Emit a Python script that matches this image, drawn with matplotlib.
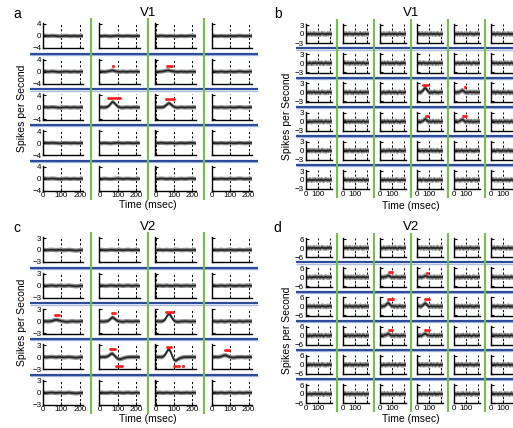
import matplotlib

matplotlib.use("Agg")
import matplotlib.pyplot as plt
import numpy as np

plt.rcParams["font.family"] = ["Liberation Sans", "DejaVu Sans"]

W_PX, H_PX, DPI = 513, 428, 100

# time axis of every trace (ms)
T_MS = [0, 10, 20, 30, 40, 50, 60, 70, 80, 90, 100, 110,
        120, 130, 140, 150, 160, 170, 180, 190, 200, 210, 220]

# flat (non-responsive) traces, read by eye
WIG_A = [
    [0.15, 0.1, 0.05, 0.0, 0.05, 0.1, 0.05, 0.0, -0.05, -0.1, -0.05, 0.0, 0.05, 0.05, 0.0, -0.05, 0.0, 0.05, 0.0, -0.05, 0.0, 0.05, 0.0],
    [0.0, -0.05, 0.0, 0.05, 0.0, -0.05, -0.1, -0.05, 0.0, 0.05, 0.1, 0.05, 0.0, -0.05, 0.0, 0.05, 0.05, 0.0, -0.05, -0.05, 0.0, 0.05, 0.0],
    [-0.05, 0.0, 0.05, 0.1, 0.05, 0.0, -0.05, 0.0, 0.05, 0.0, -0.05, -0.1, -0.05, 0.0, 0.05, 0.0, -0.05, 0.0, 0.05, 0.1, 0.05, 0.0, -0.05],
    [0.1, 0.05, 0.0, -0.05, 0.0, 0.05, 0.0, -0.05, -0.05, 0.0, 0.05, 0.0, -0.05, 0.0, 0.05, 0.1, 0.05, 0.0, -0.05, 0.0, 0.0, 0.05, 0.05],
]
WIG_C = [
    [0.05, 0.0, -0.05, 0.0, 0.05, 0.05, 0.0, -0.05, 0.0, 0.05, 0.0, -0.05, -0.05, 0.0, 0.05, 0.0, -0.05, -0.1, -0.15, -0.1, -0.05, 0.0, 0.0],
    [0.0, 0.05, 0.0, -0.05, -0.05, 0.0, 0.05, 0.05, 0.0, -0.05, 0.0, 0.05, 0.0, -0.05, 0.0, 0.05, 0.05, 0.0, -0.05, 0.0, 0.05, 0.0, -0.05],
    [-0.05, 0.0, 0.05, 0.0, -0.05, 0.0, 0.05, 0.0, -0.05, -0.05, 0.0, 0.05, 0.05, 0.0, -0.05, 0.0, 0.0, 0.05, 0.0, -0.05, 0.0, 0.05, 0.0],
    [0.05, 0.05, 0.0, -0.05, 0.0, 0.05, 0.0, -0.05, 0.0, 0.05, 0.05, 0.0, -0.05, -0.05, 0.0, 0.05, 0.0, -0.05, 0.0, 0.05, 0.0, 0.0, 0.05],
]
WIG_B = [
    [0.1, -0.2, 0.15, -0.1, 0.2, -0.15, 0.05, 0.2, -0.2, 0.1, -0.1, 0.15, -0.2, 0.1, 0.2, -0.1, 0.05, -0.2, 0.15, -0.05, 0.2, -0.1, 0.0],
    [-0.15, 0.1, -0.05, 0.2, -0.2, 0.1, 0.15, -0.1, 0.05, -0.2, 0.2, -0.05, 0.1, -0.15, 0.05, 0.2, -0.2, 0.1, -0.1, 0.15, -0.05, 0.1, -0.1],
    [0.2, 0.0, -0.15, 0.1, 0.05, -0.2, 0.1, -0.05, 0.2, -0.1, 0.0, 0.15, -0.15, 0.2, -0.05, -0.2, 0.1, 0.15, -0.1, 0.05, -0.15, 0.2, 0.0],
    [-0.05, 0.15, 0.2, -0.1, 0.05, 0.1, -0.2, 0.15, -0.05, 0.1, -0.15, -0.05, 0.2, -0.1, 0.1, 0.0, -0.15, 0.2, 0.05, -0.2, 0.1, -0.05, 0.1],
]
WIG_D = [
    [0.2, -0.4, 0.3, -0.2, 0.4, -0.3, 0.1, 0.4, -0.4, 0.2, -0.2, 0.3, -0.4, 0.2, 0.4, -0.2, 0.1, -0.4, 0.3, -0.1, 0.4, -0.2, 0.0],
    [-0.3, 0.2, -0.1, 0.4, -0.4, 0.2, 0.3, -0.2, 0.1, -0.4, 0.4, -0.1, 0.2, -0.3, 0.1, 0.4, -0.4, 0.2, -0.2, 0.3, -0.1, 0.2, -0.2],
    [0.4, 0.0, -0.3, 0.2, 0.1, -0.4, 0.2, -0.1, 0.4, -0.2, 0.0, 0.3, -0.3, 0.4, -0.1, -0.4, 0.2, 0.3, -0.2, 0.1, -0.3, 0.4, 0.0],
    [-0.1, 0.3, 0.4, -0.2, 0.1, 0.2, -0.4, 0.3, -0.1, 0.2, -0.3, -0.1, 0.4, -0.2, 0.2, 0.0, -0.3, 0.4, 0.1, -0.4, 0.2, -0.1, 0.2],
]

# responsive traces, keyed by (row, col)
A_RESP = {
    (1, 1): [0.0, 0.05, 0.0, -0.05, 0.05, 0.15, 0.3, 0.4, 0.3, 0.1, 0.0, -0.05, 0.0, 0.05, 0.0, -0.05, 0.0, 0.05, 0.0, 0.0, 0.05, 0.0, 0.0],
    (1, 2): [0.0, -0.05, 0.0, 0.05, 0.1, 0.25, 0.4, 0.45, 0.3, 0.15, 0.05, 0.0, -0.05, 0.0, 0.05, 0.0, 0.0, -0.05, 0.0, 0.05, 0.0, 0.0, 0.0],
    (2, 1): [0.0, 0.05, 0.0, 0.0, 0.1, 0.4, 1.1, 1.8, 1.6, 0.9, 0.3, 0.05, -0.1, -0.05, 0.0, 0.05, 0.0, -0.05, 0.0, 0.05, 0.0, 0.0, 0.0],
    (2, 2): [0.0, 0.0, 0.05, 0.0, 0.1, 0.35, 0.9, 1.4, 1.2, 0.6, 0.2, 0.0, -0.1, 0.0, 0.05, 0.0, -0.05, 0.0, 0.05, 0.0, 0.0, 0.05, 0.0],
}
C_RESP = {
    (2, 0): [0.0, 0.05, 0.0, 0.0, 0.05, 0.15, 0.3, 0.4, 0.35, 0.2, 0.1, 0.0, -0.05, -0.1, -0.05, 0.0, 0.05, 0.0, -0.05, 0.0, 0.0, 0.05, 0.0],
    (2, 1): [0.0, 0.0, -0.05, 0.0, 0.05, 0.2, 0.6, 1.0, 0.8, 0.4, 0.1, 0.0, -0.05, -0.1, 0.0, 0.05, 0.0, 0.0, -0.05, 0.0, 0.05, 0.0, 0.0],
    (2, 2): [0.0, 0.05, 0.0, 0.0, 0.1, 0.4, 1.2, 1.9, 1.6, 0.8, 0.2, -0.05, -0.1, -0.05, 0.0, 0.0, 0.05, 0.0, 0.0, -0.05, 0.0, 0.0, 0.0],
    (3, 1): [0.0, 0.0, 0.05, 0.0, 0.1, 0.3, 0.7, 0.9, 0.5, 0.0, -0.4, -0.55, -0.45, -0.3, -0.15, -0.05, 0.0, 0.0, 0.05, 0.0, 0.0, 0.0, 0.0],
    (3, 2): [0.0, 0.05, 0.0, 0.0, 0.1, 0.5, 1.3, 2.0, 1.5, 0.3, -0.7, -0.9, -0.6, -0.35, -0.15, -0.05, 0.0, 0.0, 0.0, 0.05, 0.0, 0.0, 0.0],
    (3, 3): [0.0, 0.0, 0.05, 0.0, 0.05, 0.15, 0.35, 0.45, 0.35, 0.15, 0.0, -0.1, -0.1, -0.05, 0.0, 0.0, 0.05, 0.0, -0.05, 0.0, 0.0, 0.05, 0.0],
}
B_RESP = {
    (2, 3): [0.1, -0.2, 0.15, -0.1, 0.2, 0.5, 1.1, 1.5, 1.2, 0.6, 0.1, -0.2, 0.1, -0.15, 0.1, 0.2, -0.1, 0.1, -0.2, 0.1, 0.0, 0.15, 0.0],
    (2, 4): [-0.1, 0.15, -0.1, 0.1, 0.0, 0.2, 0.4, 0.7, 0.5, 0.2, -0.1, 0.1, -0.15, 0.1, 0.2, -0.1, 0.05, 0.15, -0.1, 0.1, -0.05, 0.1, 0.0],
    (3, 3): [0.15, -0.1, 0.1, -0.15, 0.1, 0.2, 0.5, 0.8, 0.6, 0.2, -0.1, 0.15, -0.1, 0.05, 0.2, -0.15, 0.1, -0.1, 0.15, 0.0, -0.1, 0.1, 0.0],
    (3, 4): [-0.1, 0.1, 0.2, -0.1, 0.05, 0.2, 0.45, 0.7, 0.5, 0.15, -0.15, 0.1, 0.15, -0.1, 0.05, 0.1, -0.15, 0.1, 0.0, -0.1, 0.15, 0.0, 0.05],
}
D_RESP = {
    (1, 2): [0.2, -0.3, 0.2, -0.2, 0.3, 0.2, 0.6, 1.0, 0.8, 0.3, -0.2, 0.3, -0.3, 0.2, 0.3, -0.2, 0.1, -0.3, 0.2, -0.1, 0.3, -0.2, 0.0],
    (1, 3): [-0.2, 0.2, -0.1, 0.3, -0.3, 0.2, 0.4, 0.9, 0.6, 0.1, 0.3, -0.1, 0.2, -0.2, 0.1, 0.3, -0.3, 0.2, -0.2, 0.2, -0.1, 0.2, -0.1],
    (2, 2): [0.3, 0.0, -0.2, 0.2, 0.3, 0.8, 1.7, 2.3, 1.8, 0.8, 0.1, 0.3, -0.3, 0.3, -0.1, -0.3, 0.2, 0.3, -0.2, 0.1, -0.3, 0.3, 0.0],
    (2, 3): [-0.1, 0.3, 0.3, -0.2, 0.1, 0.6, 1.4, 2.0, 1.6, 0.6, -0.2, -0.1, 0.3, -0.2, 0.2, 0.0, -0.3, 0.3, 0.1, -0.3, 0.2, -0.1, 0.2],
    (3, 2): [0.2, -0.3, 0.3, -0.2, 0.3, 0.3, 0.8, 1.2, 0.9, 0.3, -0.2, 0.3, -0.3, 0.2, 0.3, -0.2, 0.1, -0.3, 0.3, -0.1, 0.3, -0.2, 0.0],
    (3, 3): [-0.2, 0.2, -0.1, 0.3, -0.2, 0.4, 0.9, 1.2, 0.8, 0.2, 0.3, -0.1, 0.2, -0.2, 0.1, 0.3, -0.3, 0.2, -0.2, 0.3, -0.1, 0.2, -0.2],
}

# significance markers: (row, col, t_start, t_end, y)
A_SIG = [(1, 1, 75, 75, 1.9), (1, 2, 60, 90, 1.9), (2, 1, 45, 110, 3.0), (2, 2, 55, 100, 2.8)]
C_SIG = [(2, 0, 65, 85, 1.7), (2, 1, 70, 85, 2.0), (2, 2, 55, 95, 2.4),
         (3, 1, 55, 85, 2.1), (3, 1, 90, 125, -2.2),
         (3, 2, 60, 85, 2.5), (3, 2, 100, 125, -2.3), (3, 2, 150, 150, -2.3),
         (3, 3, 70, 90, 1.8)]
B_SIG = [(2, 3, 50, 95, 2.4), (2, 4, 90, 90, 1.8), (3, 3, 75, 95, 2.0), (3, 4, 75, 100, 2.0)]
D_SIG = [(1, 2, 75, 100, 3.3), (1, 3, 85, 85, 2.9), (2, 2, 65, 110, 4.8),
         (2, 3, 65, 105, 4.8), (3, 2, 75, 100, 3.4), (3, 3, 65, 100, 3.4)]

# SEM half-width of the gray band
SEM_A, SEM_C, SEM_B, SEM_D = 0.7, 0.55, 0.85, 1.7

Y_TICKS_A, Y_TICKS_C, Y_TICKS_B, Y_TICKS_D = [-4, 0, 4], [-3, 0, 3], [-3, 0, 3], [-6, 0, 6]
X_TICKS = [0, 100, 200]
X_LABELS_WIDE = ["0", "100", "200"]
X_LABELS_NARROW = ["0", "100", ""]

BLUE, BLUE_LIGHT, GREEN, RED = "#2d4c9c", "#aebde0", "#72c24a", "#ff1f1f"

# layout (pixels)
WIDE = dict(left=42.8, dx=56.3, w=40.6, top=23.1, dy=35.7, h=25.2,
            blue_x=(30, 258), green_y=(18, 200), title_x=148, letter_x=17,
            ylab_x=22.5, ylab_y=108, xlab_y=205)
NARROW = dict(left=305.5, dx=37.0, w=26.6, top=24.1, dy=29.2, h=19.2,
              blue_x=(296, 513), green_y=(19, 198), title_x=411, letter_x=277.5,
              ylab_x=287.5, ylab_y=116, xlab_y=205.5)

PANELS = [
    dict(letter="a", area="V1", nrows=5, ncols=4, lay=WIDE, off=0, wig=WIG_A, resp=A_RESP,
         sig=A_SIG, sem=SEM_A, yt=Y_TICKS_A, ylim=(-4.1, 4.3), xl=X_LABELS_WIDE),
    dict(letter="b", area="V1", nrows=6, ncols=6, lay=NARROW, off=0, wig=WIG_B, resp=B_RESP,
         sig=B_SIG, sem=SEM_B, yt=Y_TICKS_B, ylim=(-3.1, 3.3), xl=X_LABELS_NARROW),
    dict(letter="c", area="V2", nrows=5, ncols=4, lay=WIDE, off=214, wig=WIG_C, resp=C_RESP,
         sig=C_SIG, sem=SEM_C, yt=Y_TICKS_C, ylim=(-3.08, 3.23), xl=X_LABELS_WIDE),
    dict(letter="d", area="V2", nrows=6, ncols=6, lay=NARROW, off=214, wig=WIG_D, resp=D_RESP,
         sig=D_SIG, sem=SEM_D, yt=Y_TICKS_D, ylim=(-6.2, 6.6), xl=X_LABELS_NARROW),
]


def draw_panel(fig, ov, p):
    lay, off = p["lay"], p["off"]
    nr, nc = p["nrows"], p["ncols"]
    for r in range(nr):
        for c in range(nc):
            L = lay["left"] + c * lay["dx"]
            T = off + lay["top"] + r * lay["dy"]
            ax = fig.add_axes([L / W_PX, 1 - (T + lay["h"]) / H_PX, lay["w"] / W_PX, lay["h"] / H_PX])
            ax.patch.set_visible(False)
            y = np.array(p["resp"].get((r, c), p["wig"][(r * nc + c) % len(p["wig"])]))
            band = ax.fill_between(T_MS, y - p["sem"], y + p["sem"], zorder=1)
            band.set_facecolor("#8e8e8e")
            band.set_edgecolor("none")
            ax.plot(T_MS, y, color="#262626", lw=1.25, zorder=2)
            for rr, cc, s, e, yy in p["sig"]:
                if rr == r and cc == c:
                    ax.plot([s, e], [yy, yy], color=RED, lw=1.9, marker="o", ms=2.0,
                            mec="none", solid_capstyle="butt", zorder=3)
            for xv in X_TICKS:
                ax.axvline(xv, color="k", lw=0.7, ls=(0, (2.2, 2.2)), zorder=0)
            ax.set_xlim(-2, 220)
            ax.set_ylim(*p["ylim"])
            for s in ("top", "right"):
                ax.spines[s].set_visible(False)
            for s in ("left", "bottom"):
                ax.spines[s].set_linewidth(1.0)
            ax.set_xticks(X_TICKS)
            ax.set_yticks(p["yt"])
            ax.tick_params(direction="in", length=2.2, width=0.8, labelsize=5.8, pad=1.0)
            ax.set_yticklabels([f"{v}".replace("-", "\u2212") for v in p["yt"]] if c == 0 else [])
            ax.set_xticklabels(p["xl"] if r == nr - 1 else [])

    # separators
    for r in range(nr - 1):
        yb = off + lay["top"] + r * lay["dy"] + (lay["h"] + lay["dy"]) / 2
        ov.plot(lay["blue_x"], [yb + 1.3, yb + 1.3], color=BLUE_LIGHT, lw=1.0, solid_capstyle="butt")
        ov.plot(lay["blue_x"], [yb, yb], color=BLUE, lw=1.6, solid_capstyle="butt")
    for c in range(nc - 1):
        xg = lay["left"] + c * lay["dx"] + (lay["w"] + lay["dx"]) / 2
        ov.plot([xg, xg], [off + lay["green_y"][0], off + lay["green_y"][1]],
                color=GREEN, lw=1.5, solid_capstyle="butt")

    ov.text(lay["letter_x"], off + 13.5, p["letter"], fontsize=10, ha="center", va="center")
    ov.text(lay["title_x"], off + 12.5, p["area"], fontsize=9.5, ha="center", va="center")
    ov.text(lay["ylab_x"], off + lay["ylab_y"], "Spikes per Second", rotation=90,
            fontsize=7.5, ha="center", va="center")
    ov.text(lay["title_x"], off + lay["xlab_y"], "Time (msec)", fontsize=7.5,
            ha="center", va="center")


def main():
    fig = plt.figure(figsize=(W_PX / DPI, H_PX / DPI), dpi=DPI)
    ov = fig.add_axes([0, 0, 1, 1], zorder=10)
    ov.set_xlim(0, W_PX)
    ov.set_ylim(H_PX, 0)
    ov.axis("off")
    ov.patch.set_alpha(0)
    for p in PANELS:
        draw_panel(fig, ov, p)
    fig.savefig("out.png", dpi=DPI)


if __name__ == "__main__":
    main()
